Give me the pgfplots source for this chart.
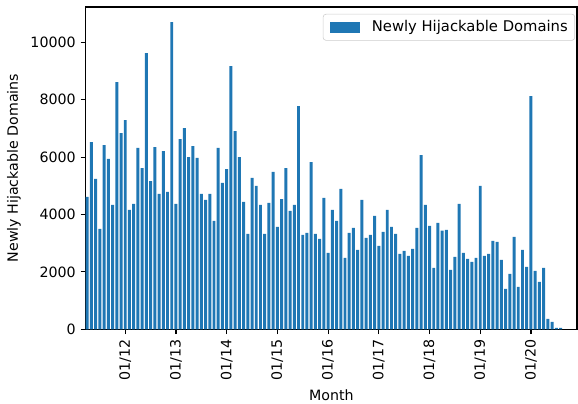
\documentclass[border=0pt]{standalone}
\usepackage{fontspec}
\setmainfont{DejaVu Sans}
\usepackage{pgfplots}
\usepackage{pgfplotstable}
\pgfplotsset{compat=1.18}
\definecolor{tabblue}{HTML}{1F77B4}
\pgfplotstableread{
x y
1 4609
2 6525
3 5236
4 3495
5 6420
6 5933
7 4331
8 8615
9 6838
10 7291
11 4156
12 4365
13 6316
14 5619
15 9625
16 5166
17 6350
18 4714
19 6211
20 4783
21 10704
22 4365
23 6629
24 7012
25 6002
26 6385
27 5968
28 4714
29 4505
30 4714
31 3773
32 6316
33 5097
34 5584
35 9172
36 6908
37 6002
38 4435
39 3320
40 5271
41 4992
42 4331
43 3320
44 4400
45 5480
46 3564
47 4539
48 5619
49 4122
50 4331
51 7779
52 3286
53 3355
54 5828
55 3320
56 3146
57 4574
58 2659
59 4156
60 3773
61 4888
62 2485
63 3355
64 3529
65 2763
66 4505
67 3181
68 3286
69 3947
70 2903
71 3390
72 4156
73 3564
74 3320
75 2624
76 2728
77 2554
78 2798
79 3529
80 6072
81 4331
82 3599
83 2136
84 3704
85 3437
86 3460
87 2067
88 2519
89 4365
90 2659
91 2450
92 2345
93 2485
94 4992
95 2554
96 2624
97 3077
98 3042
99 2415
100 1405
101 1927
102 3216
103 1474
104 2763
105 2171
106 8127
107 2032
108 1649
109 2136
110 360
111 255
112 46
113 46
}\datatable
\begin{document}
\begin{tikzpicture}
\begin{axis}[
  at={(0,0)}, anchor=south west,
  scale only axis, width=345.9pt, height=226.9pt,
  xmin=0.63, xmax=116.9, ymin=0, ymax=11230,
  ybar, bar width=0.7,
  xtick={10,22,34,46,58,70,82,94,106},
  xticklabels={01/12,01/13,01/14,01/15,01/16,01/17,01/18,01/19,01/20},
  xticklabel style={rotate=90, anchor=east},
  ytick={0,2000,4000,6000,8000,10000},
  scaled y ticks=false,
  /pgf/number format/1000 sep={},
  /pgf/number format/assume math mode=true,
  tick align=outside, tick pos=left,
  major tick length=3.5pt,
  every tick/.style={black, line width=0.8pt},
  axis line style={line width=0.8pt},
  tick label style={font=\fontsize{10}{12}\selectfont},
  label style={font=\fontsize{10}{12}\selectfont},
  xlabel={Month}, ylabel={Newly Hijackable Domains},
  legend style={at={(1,1)}, anchor=north east, xshift=-1.4pt, yshift=-4.9pt,
    draw=black!20, rounded corners=2pt, fill=white,
    font=\fontsize{10.4}{12.5}\selectfont, inner xsep=4.9pt, inner ysep=4.5pt,
    nodes={inner sep=0pt},
    /tikz/every odd column/.append style={column sep=8.4pt}},
  legend image code/.code={\fill[#1, sharp corners] (0pt,-3.8pt) rectangle (21pt,3.8pt);},
]
\addplot[fill=tabblue, draw=none] table[x=x,y=y] {\datatable};
\legend{Newly Hijackable Domains}
\end{axis}
\pgfresetboundingbox
\path (-60.3pt,-52.6pt) rectangle (346.6pt,231.8pt);
\end{tikzpicture}
\end{document}
